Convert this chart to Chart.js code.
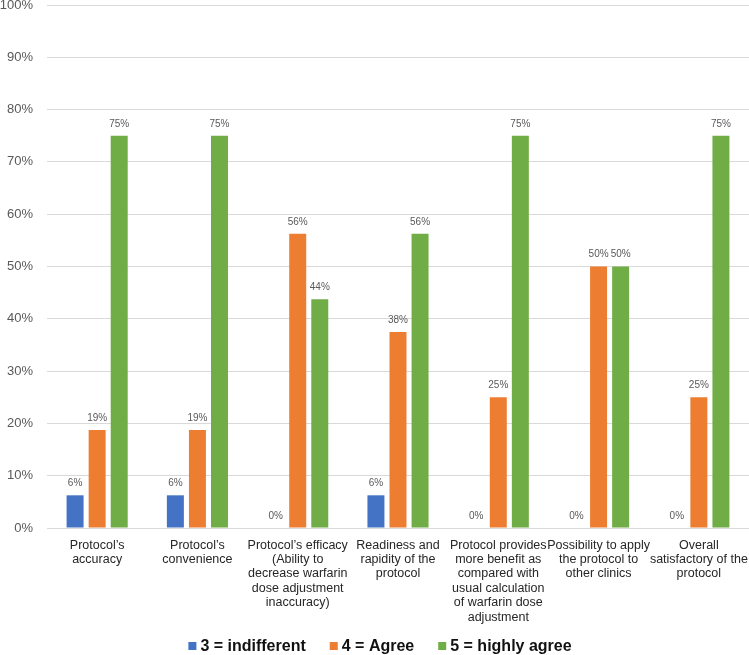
<!DOCTYPE html>
<html>
<head>
<meta charset="utf-8">
<script src="https://cdn.jsdelivr.net/npm/chart.js@4"></script>
<style>
  body { margin: 0; background: #fff; }
  #wrap { width: 749px; height: 655px; }
</style>
</head>
<body>
<div id="wrap"><canvas id="myChart" width="749" height="655"></canvas></div>
<script>
const categories = [
  ["Protocol\u2019s", "accuracy"],
  ["Protocol\u2019s", "convenience"],
  ["Protocol\u2019s efficacy", "(Ability to", "decrease warfarin", "dose adjustment", "inaccuracy)"],
  ["Readiness and", "rapidity of the", "protocol"],
  ["Protocol provides", "more benefit as", "compared with", "usual calculation", "of warfarin dose", "adjustment"],
  ["Possibility to apply", "the protocol to", "other clinics"],
  ["Overall", "satisfactory of the", "protocol"],
];
const indifferent = [6.25, 6.25, 0, 6.25, 0, 0, 0];
const agree = [18.75, 18.75, 56.25, 37.5, 25, 50, 25];
const highlyAgree = [75, 75, 43.75, 56.25, 75, 50, 75];
const yTicks = [0, 10, 20, 30, 40, 50, 60, 70, 80, 90, 100];

const FONT = "'Liberation Sans', Arial, sans-serif";

// percentage above each bar
const valueLabels = {
  id: "valueLabels",
  afterDatasetsDraw(chart) {
    const c = chart.ctx;
    c.save();
    c.font = `10px ${FONT}`;
    c.fillStyle = "#595959";
    c.textAlign = "center";
    c.textBaseline = "bottom";
    chart.data.datasets.forEach((ds, i) => {
      chart.getDatasetMeta(i).data.forEach((bar, j) => {
        c.fillText(Math.round(ds.data[j]) + "%", bar.x, bar.y - 7);
      });
    });
    c.restore();
  },
};

// legend drawn by hand so the box/text gaps match the original
const bottomLegend = {
  id: "bottomLegend",
  afterDraw(chart) {
    const c = chart.ctx;
    const box = 8, gapText = 4, gapItem = 24, cy = 646, cx = 380;
    c.save();
    c.font = `bold 16px ${FONT}`;
    c.textBaseline = "middle";
    const items = chart.data.datasets.map((ds) => ({
      label: ds.label,
      color: ds.backgroundColor,
      w: box + gapText + c.measureText(ds.label).width,
    }));
    const total = items.reduce((s, it) => s + it.w, 0) + gapItem * (items.length - 1);
    let x = cx - total / 2;
    items.forEach((it) => {
      c.fillStyle = it.color;
      c.fillRect(x, cy - box / 2, box, box);
      c.fillStyle = "#111";
      c.fillText(it.label, x + box + gapText, cy + 1);
      x += it.w + gapItem;
    });
    c.restore();
  },
};

const ctx = document.getElementById("myChart").getContext("2d");
const myChart = new Chart(ctx, {
  type: "bar",
  data: {
    labels: categories,
    datasets: [
      { label: "3 = indifferent", data: indifferent, backgroundColor: "#4472C4" },
      { label: "4 = Agree", data: agree, backgroundColor: "#ED7D31" },
      { label: "5 = highly agree", data: highlyAgree, backgroundColor: "#70AD47" },
    ],
  },
  options: {
    responsive: false,
    animation: false,
    categoryPercentage: 0.66,
    barPercentage: 0.77,
    layout: { padding: { top: 5, right: -5, left: 0, bottom: 31 } },
    scales: {
      x: {
        grid: { display: false },
        border: { color: "#d9d9d9" },
        afterFit: (axis) => {
          axis.height = 96;
          axis.paddingLeft = 0;
          axis.paddingRight = 0;
        },
        ticks: {
          color: "#262626",
          maxRotation: 0,
          autoSkip: false,
          padding: 2,
          font: { family: FONT, size: 12.5, lineHeight: 1.15 },
        },
      },
      y: {
        min: 0,
        max: 100,
        afterBuildTicks: (axis) => {
          axis.ticks = yTicks.map((v) => ({ value: v }));
        },
        afterFit: (axis) => {
          axis.width = 47;
          axis.paddingTop = 0;
          axis.paddingBottom = 0;
        },
        grid: { color: "#d9d9d9", drawTicks: false },
        border: { display: false },
        ticks: {
          color: "#595959",
          padding: 14,
          callback: (v) => `${v}%`,
          font: { family: FONT, size: 13 },
        },
      },
    },
    plugins: {
      title: { display: false },
      tooltip: { enabled: false },
      legend: { display: false },
    },
  },
  plugins: [valueLabels, bottomLegend],
});
</script>
</body>
</html>
